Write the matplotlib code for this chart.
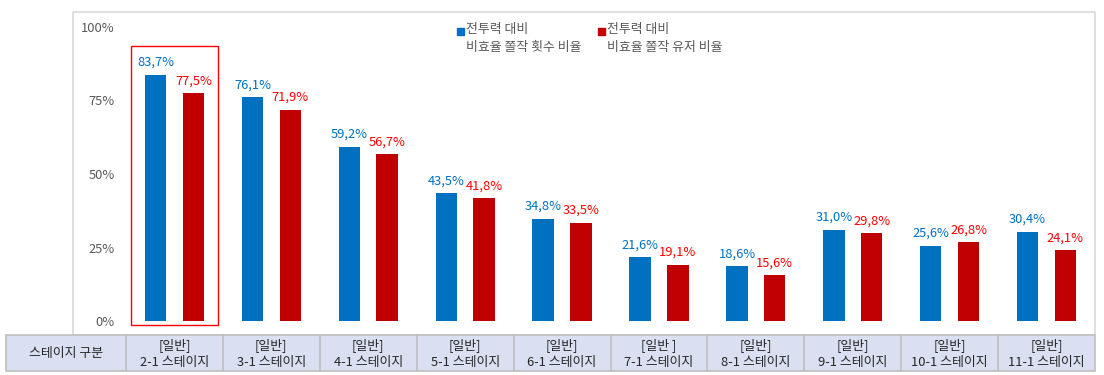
import numpy as np
import matplotlib.pyplot as plt
from matplotlib.patches import Rectangle

plt.rcParams['font.family'] = ['Noto Sans CJK KR', 'DejaVu Sans']

# data
stages = ['[일반]\n2-1 스테이지', '[일반]\n3-1 스테이지', '[일반]\n4-1 스테이지',
          '[일반]\n5-1 스테이지', '[일반]\n6-1 스테이지', '[일반 ]\n7-1 스테이지',
          '[일반]\n8-1 스테이지', '[일반]\n9-1 스테이지', '[일반]\n10-1 스테이지',
          '[일반]\n11-1 스테이지']
count_ratio = [83.7, 76.1, 59.2, 43.5, 34.8, 21.6, 18.6, 31.0, 25.6, 30.4]
user_ratio = [77.5, 71.9, 56.7, 41.8, 33.5, 19.1, 15.6, 29.8, 26.8, 24.1]
yticks = [0, 25, 50, 75, 100]
series_names = ['전투력 대비\n비효율 쫄작 횟수 비율', '전투력 대비\n비효율 쫄작 유저 비율']
row_header = '스테이지 구분'

BLUE = '#0070C0'
DARK_RED = '#C00000'
LABEL_RED = '#FF0000'
GREY = '#595959'
FS = 9.3

W, H = 1104, 375
fig = plt.figure(figsize=(W / 100, H / 100), dpi=100)


def fx(px):
    return px / W


def fy(py):
    return 1 - py / H


# outer chart border
fig.patches.append(Rectangle((fx(73), fy(335)), fx(1095) - fx(73), fy(12) - fy(335),
                             transform=fig.transFigure, fill=False,
                             edgecolor='#D9D9D9', lw=1.2))

ax = fig.add_axes([fx(126), fy(335), fx(1095) - fx(126), fy(12) - fy(335)])
x = np.arange(len(stages))
bw = 0.22
off = 0.195
ax.bar(x - off, count_ratio, bw, color=BLUE)
ax.bar(x + off, user_ratio, bw, color=DARK_RED)
for i in range(len(stages)):
    ax.text(x[i] - off, count_ratio[i] + 2.0, f'{count_ratio[i]:.1f}%'.replace('.', ','),
            ha='center', va='bottom', color=BLUE, fontsize=FS)
    ax.text(x[i] + off, user_ratio[i] + 2.0, f'{user_ratio[i]:.1f}%'.replace('.', ','),
            ha='center', va='bottom', color=LABEL_RED, fontsize=FS)

ax.set_xlim(-0.5, len(stages) - 0.5)
ax.set_ylim(-4.76, 105.1)
ax.set_yticks(yticks)
ax.set_yticklabels([f'{t}%' for t in yticks], color=GREY, fontsize=FS)
ax.tick_params(axis='y', length=0, pad=8)
ax.set_xticks([])
for s in ax.spines.values():
    s.set_visible(False)

# highlight box around first group
ax.add_patch(Rectangle((-0.449, -1.36), 0.898, 94.9, fill=False,
                       edgecolor='#FF0000', lw=1.0, clip_on=False))

# legend
for sx, col, name in [(457, BLUE, series_names[0]), (598, DARK_RED, series_names[1])]:
    fig.patches.append(Rectangle((fx(sx), fy(35)), fx(7), 7 / H, transform=fig.transFigure,
                                 color=col))
    fig.text(fx(sx + 9), fy(23), name, ha='left', va='top', fontsize=FS,
             color=GREY, linespacing=1.45)

# table below
t_top, t_bot = 335, 371
t_left, first_w, t_right = 6, 126, 1095
col_w = (t_right - first_w) / len(stages)
edges = [t_left, first_w] + [first_w + col_w * (i + 1) for i in range(len(stages))]
fig.patches.append(Rectangle((fx(t_left), fy(t_bot)), fx(t_right) - fx(t_left),
                             fy(t_top) - fy(t_bot), transform=fig.transFigure,
                             facecolor='#DAE0F2', edgecolor='#BFBFBF', lw=1.2))
for e in edges[1:-1]:
    fig.add_artist(plt.Line2D([fx(e), fx(e)], [fy(t_bot), fy(t_top)],
                              transform=fig.transFigure, color='#BFBFBF', lw=1.2))
texts = [row_header] + stages
for i, t in enumerate(texts):
    cx = (edges[i] + edges[i + 1]) / 2
    fig.text(fx(cx), fy((t_top + t_bot) / 2 + 1), t, ha='center', va='center',
             fontsize=FS, color='#262626', linespacing=1.4)

fig.savefig('out.png', dpi=100)
